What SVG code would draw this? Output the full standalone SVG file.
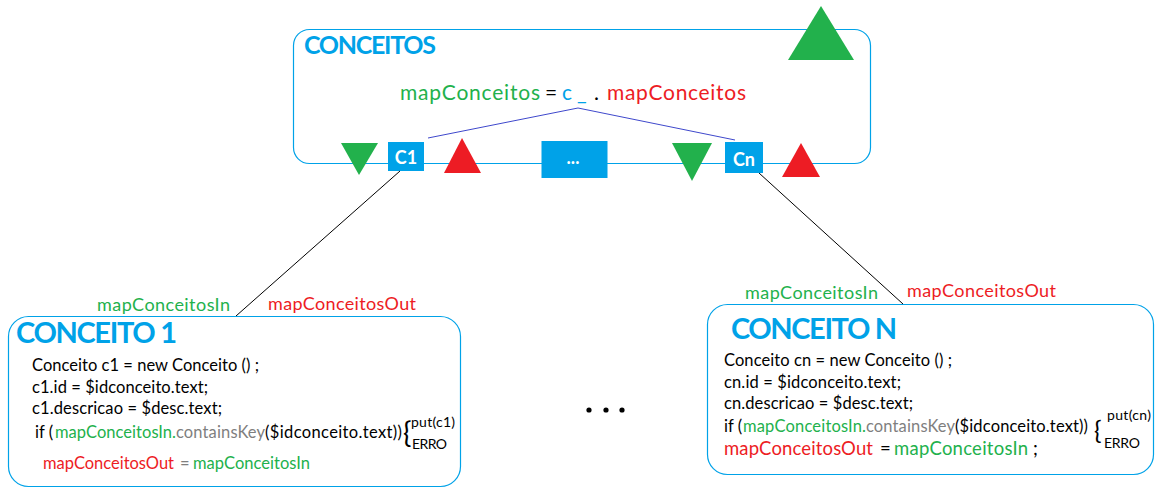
<svg xmlns="http://www.w3.org/2000/svg" width="1155" height="493" viewBox="0 0 1155 493">
<style>
text{font-family:Lato,"Open Sans","Liberation Sans",sans-serif}
.box{fill:#fff;stroke:#00a2e8;stroke-width:1.2}
.title{fill:#00a2e8;font-weight:bold}
.code{font-size:16.5px;fill:#000}
.g{fill:#22b14c}.r{fill:#ed1c24}.b{fill:#00a2e8}.k{fill:#000}.gr{fill:#7f7f7f}
.tg{fill:#22b14c}.tr{fill:#ed1c24}
.sq{fill:#00a2e8}
.sqt{fill:#fff;font-weight:bold;font-size:18px}
.lbl{font-size:18px}
.sup{font-size:14px;fill:#000}
.conn{stroke:#000;stroke-width:1;fill:none}
.conn2{stroke:#3f48cc;stroke-width:1;fill:none}
</style>
<rect width="1155" height="493" fill="#fff"/>

<g id="conceitos">
<rect class="box" x="293.5" y="29.5" width="577" height="134" rx="16"/>
<text class="title" x="304" y="54" font-size="25" textLength="132">CONCEITOS</text>
<polygon class="tg" points="821,6 854,60 788,60"/>
<text x="400" y="100" font-size="21">
<tspan class="g" x="400" textLength="140">mapConceitos</tspan><tspan class="k" x="545">=</tspan><tspan class="b" x="562">c</tspan><tspan class="b" x="577">_</tspan><tspan class="k" x="594">.</tspan><tspan class="r" x="607" textLength="139">mapConceitos</tspan>
</text>
</g>

<g id="c1">
<polygon class="tg" points="341,143 378,143 359,175"/>
<rect class="sq" x="388" y="142" width="36" height="29"/>
<text class="sqt" x="406" y="164" text-anchor="middle">C1</text>
<polygon class="tr" points="462,138 481,173 444,173"/>
</g>

<g id="ellipsis-box">
<rect class="sq" x="541.5" y="141" width="66" height="37"/>
<text class="sqt" x="573" y="164" text-anchor="middle">...</text>
</g>

<g id="cn">
<polygon class="tg" points="672,143 712,143 692,181"/>
<rect class="sq" x="725" y="142" width="38" height="31"/>
<text class="sqt" x="744" y="166" text-anchor="middle">Cn</text>
<polygon class="tr" points="801,143 820,177 782,177"/>
</g>

<g id="connectors">
<polyline class="conn2" points="428,138 578,108 735,140"/>
<line class="conn" x1="400" y1="171" x2="236" y2="316"/>
<line class="conn" x1="759" y1="173" x2="903" y2="304"/>
</g>

<g id="conceito1">
<text class="lbl g" x="97" y="311" textLength="133">mapConceitosIn</text>
<text class="lbl r" x="268" y="310" textLength="148">mapConceitosOut</text>
<rect class="box" x="8.5" y="316.5" width="452" height="170" rx="20"/>
<text class="title" x="16" y="343" font-size="29" textLength="161">CONCEITO 1</text>
<text class="code" x="32" y="371" textLength="227">Conceito c1 = new Conceito () ;</text>
<text class="code" x="32" y="393" textLength="176">c1.id = $idconceito.text;</text>
<text class="code" x="32" y="414" textLength="190">c1.descricao = $desc.text;</text>
<text class="code" y="438"><tspan x="35">if (</tspan><tspan class="g" x="55" textLength="121">mapConceitosIn.</tspan><tspan class="gr" x="176" textLength="89">containsKey</tspan><tspan class="k" x="265" textLength="137">($idconceito.text))</tspan></text>
<text x="403" y="443" font-size="28" fill="#000">{</text>
<text class="sup" x="411" y="427" textLength="44">put(c1)</text>
<text class="sup" x="412" y="449" textLength="35">ERRO</text>
<text class="code" y="469"><tspan class="r" x="43" textLength="131">mapConceitosOut</tspan><tspan class="gr" x="180">=</tspan><tspan class="g" x="193" textLength="117">mapConceitosIn</tspan></text>
</g>

<g id="dots">
<circle cx="589" cy="410" r="2.6" fill="#000"/>
<circle cx="606" cy="410" r="2.6" fill="#000"/>
<circle cx="622" cy="410" r="2.6" fill="#000"/>
</g>

<g id="conceitoN">
<text class="lbl g" x="745" y="299" textLength="133">mapConceitosIn</text>
<text class="lbl r" x="907" y="297" textLength="149">mapConceitosOut</text>
<rect class="box" x="707.5" y="304.5" width="446" height="170" rx="20"/>
<text class="title" x="731" y="339" font-size="29" textLength="166">CONCEITO N</text>
<text class="code" x="724" y="366" textLength="228">Conceito cn = new Conceito () ;</text>
<text class="code" x="724" y="388" textLength="177">cn.id = $idconceito.text;</text>
<text class="code" x="724" y="409" textLength="189">cn.descricao = $desc.text;</text>
<text class="code" y="432"><tspan x="724">if (</tspan><tspan class="g" x="743" textLength="123">mapConceitosIn.</tspan><tspan class="gr" x="866" textLength="89">containsKey</tspan><tspan class="k" x="955" textLength="133">($idconceito.text))</tspan></text>
<text x="1094" y="439" font-size="25" fill="#000">{</text>
<text class="sup" x="1107" y="420" textLength="44">put(cn)</text>
<text class="sup" x="1104" y="448" textLength="36">ERRO</text>
<text y="455" font-size="18.5"><tspan class="r" x="724" textLength="149">mapConceitosOut</tspan><tspan class="k" x="880">=</tspan><tspan class="g" x="894" textLength="134">mapConceitosIn</tspan><tspan class="k" x="1033">;</tspan></text>
</g>
</svg>
